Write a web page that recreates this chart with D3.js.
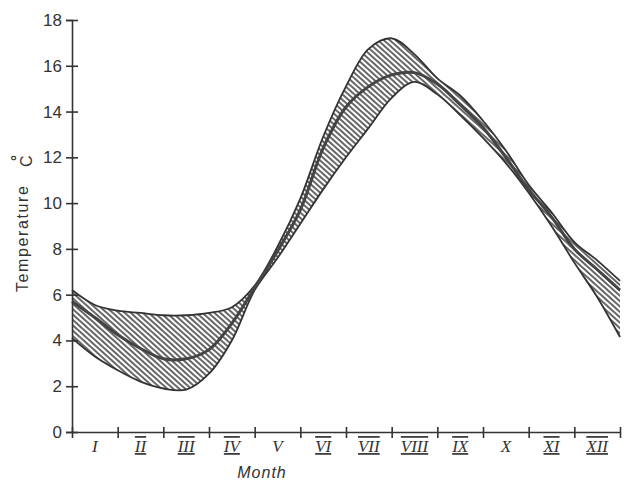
<!DOCTYPE html>
<html>
<head>
<meta charset="utf-8">
<script src="https://cdn.jsdelivr.net/npm/d3@7"></script>
<style>
  body { margin: 0; background: #fff; }
  svg { display: block; }
  .axis path, .axis line { stroke: #333; stroke-width: 1.6; }
  .axis text { fill: #333; }
</style>
</head>
<body>
<div id="chart"></div>
<script>
// month position (0 = start of January, 12 = end of December)
var monthPos = [0, 0.5, 1, 1.5, 2, 2.5, 3, 3.5, 4, 4.5, 5, 5.5, 6, 6.5, 7, 7.5, 8, 8.5, 9, 9.5, 10, 10.5, 11, 11.5, 12];
var upperT = [6.2, 5.55, 5.3, 5.2, 5.1, 5.1, 5.2, 5.45, 6.4, 8.1, 10.2, 12.9, 15.1, 16.75, 17.2, 16.5, 15.45, 14.7, 13.6, 12.3, 10.8, 9.6, 8.3, 7.5, 6.6];
var meanT  = [5.7, 5.0, 4.25, 3.65, 3.2, 3.2, 3.6, 4.75, 6.3, 7.9, 9.7, 12.4, 14.2, 15.1, 15.6, 15.7, 15.2, 14.3, 13.3, 12.0, 10.6, 9.4, 8.0, 7.1, 6.2];
var lowerT = [4.1, 3.3, 2.7, 2.2, 1.9, 1.85, 2.55, 4.0, 6.2, 7.6, 9.1, 10.6, 12.0, 13.3, 14.6, 15.3, 14.75, 13.85, 12.85, 11.75, 10.45, 9.0, 7.4, 5.9, 4.15];

var monthLabels = ["I", "II", "III", "IV", "V", "VI", "VII", "VIII", "IX", "X", "XI", "XII"];
var monthTicks = [0, 1, 2, 3, 4, 5, 6, 7, 8, 9, 10, 11, 12];
var tempTicks = [0, 2, 4, 6, 8, 10, 12, 14, 16, 18];

var width = 625, height = 484;
var margin = {top: 20, right: 5, bottom: 52, left: 72};

var svg = d3.select("#chart").append("svg")
    .attr("width", width)
    .attr("height", height);

var x = d3.scaleLinear().domain([0, 12]).range([margin.left, width - margin.right]);
var y = d3.scaleLinear().domain([0, 18]).range([height - margin.bottom, margin.top]);
var xBand = d3.scaleBand().domain(monthLabels).range([margin.left, width - margin.right]);

var points = monthPos.map(function(m, i) {
  return {m: m, up: upperT[i], mean: meanT[i], low: lowerT[i]};
});

// hatch pattern
var defs = svg.append("defs");
var pat = defs.append("pattern")
    .attr("id", "hatch")
    .attr("patternUnits", "userSpaceOnUse")
    .attr("width", 4)
    .attr("height", 4)
    .attr("patternTransform", "rotate(42)");
pat.append("line")
    .attr("x1", 0).attr("y1", 1)
    .attr("x2", 4).attr("y2", 1)
    .attr("stroke", "#333")
    .attr("stroke-width", 1.5);

var curve = d3.curveCatmullRom.alpha(0.5);

var band = d3.area()
    .x(function(d) { return x(d.m); })
    .y0(function(d) { return y(d.low); })
    .y1(function(d) { return y(d.up); })
    .curve(curve);

var line = function(key) {
  return d3.line()
    .x(function(d) { return x(d.m); })
    .y(function(d) { return y(d[key]); })
    .curve(curve);
};

svg.append("path")
   .attr("d", band(points))
   .attr("fill", "url(#hatch)")
   .attr("stroke", "none");

svg.append("path")
   .attr("d", line("up")(points))
   .attr("fill", "none")
   .attr("stroke", "#333")
   .attr("stroke-width", 1.8);

svg.append("path")
   .attr("d", line("low")(points))
   .attr("fill", "none")
   .attr("stroke", "#333")
   .attr("stroke-width", 1.8);

svg.append("path")
   .attr("d", line("mean")(points))
   .attr("fill", "none")
   .attr("stroke", "#444")
   .attr("stroke-width", 3);

// Y axis
svg.append("g")
   .attr("class", "axis")
   .attr("transform", "translate(" + margin.left + ",0)")
   .call(d3.axisLeft(y).tickValues(tempTicks).tickSizeOuter(0).tickSize(6).tickPadding(4))
   .call(function(g) {
     g.selectAll(".tick line").attr("x1", 6).attr("x2", -6);
     g.selectAll(".tick text")
      .style("font-family", "'Liberation Sans', Arial, sans-serif")
      .style("font-size", "17px");
   });

// X axis ticks
svg.append("g")
   .attr("class", "axis")
   .attr("transform", "translate(0," + y(0) + ")")
   .call(d3.axisBottom(x).tickValues(monthTicks).tickSizeOuter(0).tickFormat(""))
   .call(function(g) {
     g.selectAll(".tick line").attr("y1", -5).attr("y2", 6);
   });

// X month labels
svg.append("g")
   .attr("class", "axis")
   .attr("transform", "translate(0," + y(0) + ")")
   .call(d3.axisBottom(xBand).tickSize(0).tickPadding(8))
   .call(function(g) {
     g.select(".domain").remove();
     g.selectAll(".tick text")
      .style("font-family", "'Liberation Serif', 'Times New Roman', serif")
      .style("font-style", "italic")
      .style("font-size", "17px")
      .style("text-decoration", function(d) { return d.length > 1 ? "overline underline" : null; });
   });

// axis titles
svg.append("text")
   .attr("x", 262)
   .attr("y", 478)
   .attr("text-anchor", "middle")
   .style("font-family", "'Liberation Sans', Arial, sans-serif")
   .style("font-style", "italic")
   .style("font-size", "16px")
   .style("letter-spacing", "1px")
   .style("fill", "#333")
   .text("Month");

svg.append("text")
   .attr("transform", "translate(28,292) rotate(-90)")
   .style("font-family", "'Liberation Sans', Arial, sans-serif")
   .style("font-size", "16px")
   .style("letter-spacing", "1.6px")
   .style("fill", "#333")
   .text("Temperature");

svg.append("text")
   .attr("transform", "translate(32,167) rotate(-90)")
   .style("font-family", "'Liberation Sans', Arial, sans-serif")
   .style("font-size", "16px")
   .style("fill", "#333")
   .text("C");

svg.append("text")
   .attr("transform", "translate(22,161) rotate(-90)")
   .style("font-family", "'Liberation Sans', Arial, sans-serif")
   .style("font-size", "15px")
   .style("font-weight", "bold")
   .style("fill", "#333")
   .text("°");
</script>
</body>
</html>
